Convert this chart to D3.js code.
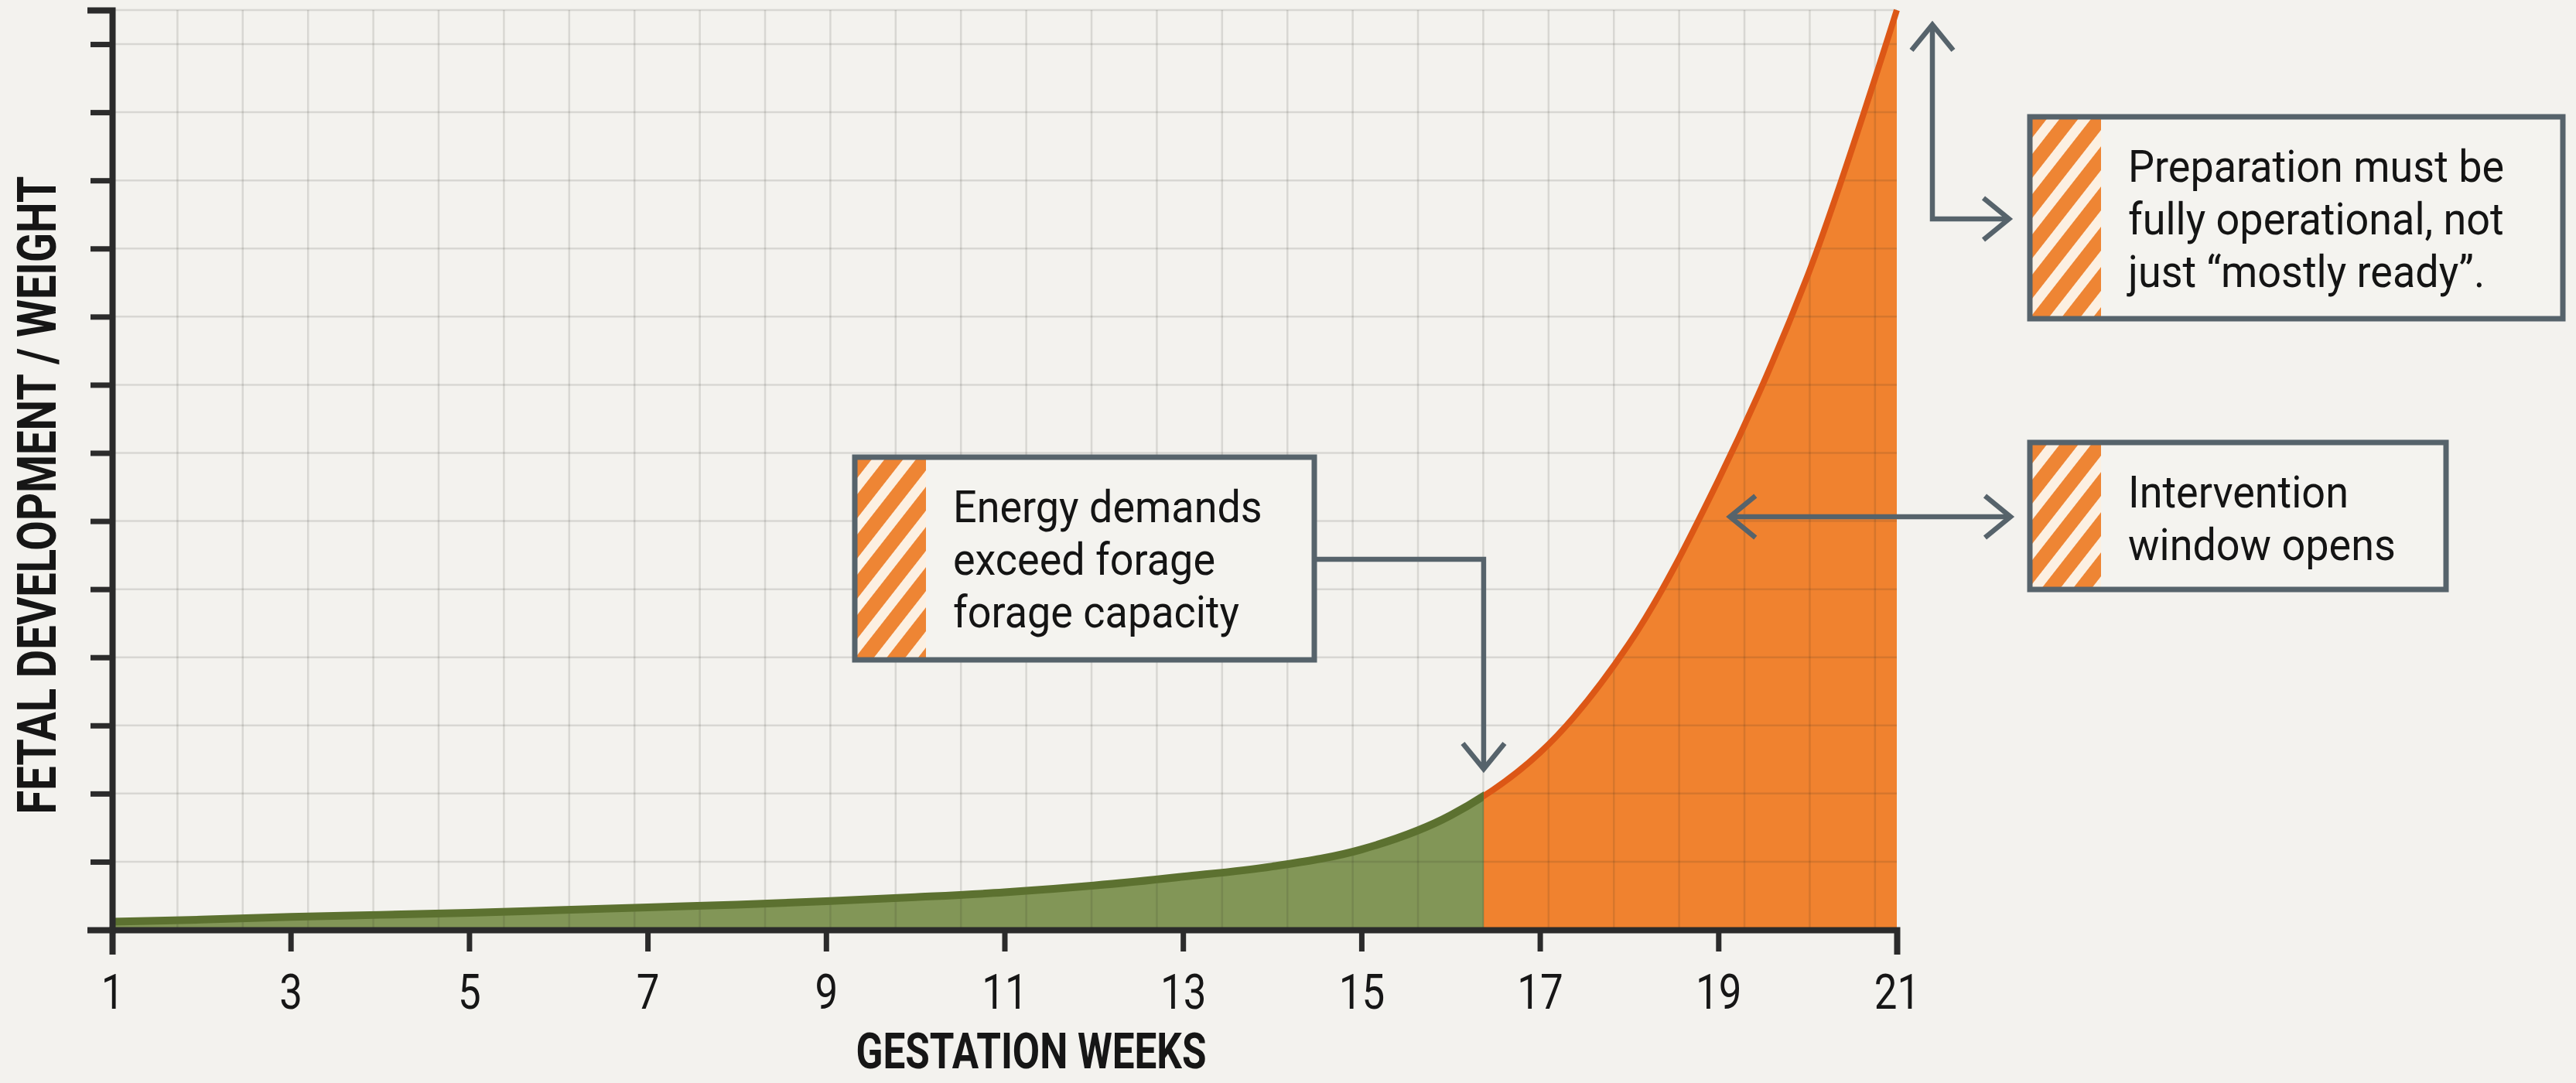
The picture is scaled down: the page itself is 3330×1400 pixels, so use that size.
<!DOCTYPE html>
<html>
<head>
<meta charset="utf-8">
<script src="https://cdn.jsdelivr.net/npm/d3@7/dist/d3.min.js"></script>
<style>
    body { margin: 0; background: #f3f2ee; }
    svg { display: block; }
</style>
</head>
<body>
<div id="chart-area"></div>
<script>
// gestation weeks and the relative fetal development
const weeks = [1, 2, 3, 4, 5, 6, 7, 8, 9, 10, 11, 12, 13, 14, 15, 16, 17, 18, 19, 20, 21];
const development = [0.12, 0.15, 0.19, 0.22, 0.25, 0.29, 0.33, 0.37, 0.42, 0.48, 0.55, 0.65, 0.78, 0.93, 1.18, 1.68, 2.60, 4.20, 6.60, 9.60, 13.5];

// week where forage stops covering the demand (green -> orange)
const splitWeek = 16.37;

const xTickWeeks = [1, 3, 5, 7, 9, 11, 13, 15, 17, 19, 21];
const yTickValues = [1, 2, 3, 4, 5, 6, 7, 8, 9, 10, 11, 12, 13];

const xTitle = "GESTATION WEEKS";
const yTitle = "FETAL DEVELOPMENT / WEIGHT";

const energyNote = ["Energy demands", "exceed forage", "forage capacity"];
const preparationNote = ["Preparation must be", "fully operational, not", "just \u201cmostly ready\u201d."];
const interventionNote = ["Intervention", "window opens"];

const FONT = "Roboto, 'Liberation Sans', sans-serif";

class GestationChart {
    constructor(parentElement) {
        this.parentElement = parentElement;
        this.initVis();
    }

    initVis() {
        const vis = this;

        vis.margin = { top: 13, right: 878, bottom: 198, left: 145 };
        vis.width = 3330 - vis.margin.left - vis.margin.right;
        vis.height = 1400 - vis.margin.top - vis.margin.bottom;

        vis.root = d3.select(vis.parentElement)
            .append("svg")
            .attr("width", 3330)
            .attr("height", 1400);

        vis.root.append("rect")
            .attr("width", 3330).attr("height", 1400)
            .attr("fill", "#f3f2ee");

        // striped marker used on the annotation boxes
        const defs = vis.root.append("defs");
        const pat = defs.append("pattern")
            .attr("id", "stripes")
            .attr("patternUnits", "userSpaceOnUse")
            .attr("width", 32).attr("height", 32)
            .attr("patternTransform", "rotate(38)");
        pat.append("rect").attr("width", 32).attr("height", 32).attr("fill", "#fcf0e2");
        pat.append("rect").attr("width", 19).attr("height", 32).attr("fill", "#ee8534");

        vis.svg = vis.root.append("g")
            .attr("transform", `translate(${vis.margin.left}, ${vis.margin.top})`);

        vis.x = d3.scaleLinear().domain([1, 21]).range([0, vis.width]);
        vis.y = d3.scaleLinear().domain([0, 13.5]).range([vis.height, 0]);

        vis.data = weeks.map((w, i) => ({ week: w, value: development[i] }));

        vis.drawArea();
        vis.drawGrid();
        vis.drawCurve();
        vis.drawAxes();
        vis.drawNotes();
    }

    drawArea() {
        const vis = this;
        const xs = vis.x(splitWeek);

        vis.area = d3.area()
            .x(d => vis.x(d.week))
            .y0(vis.y(0))
            .y1(d => vis.y(d.value))
            .curve(d3.curveCatmullRom.alpha(0.5));

        const defs = vis.root.select("defs");
        defs.append("clipPath").attr("id", "clip-left")
            .append("rect").attr("x", -20).attr("y", -50).attr("width", xs + 20).attr("height", vis.height + 100);
        defs.append("clipPath").attr("id", "clip-right")
            .append("rect").attr("x", xs).attr("y", -50).attr("width", vis.width - xs + 20).attr("height", vis.height + 100);

        vis.svg.append("path").datum(vis.data)
            .attr("clip-path", "url(#clip-left)")
            .attr("fill", "#829657")
            .attr("d", vis.area);
        vis.svg.append("path").datum(vis.data)
            .attr("clip-path", "url(#clip-right)")
            .attr("fill", "#f0822f")
            .attr("d", vis.area);
    }

    drawGrid() {
        const vis = this;
        const grid = vis.svg.append("g").attr("class", "grid")
            .attr("stroke", "rgba(40,35,30,0.13)")
            .attr("stroke-width", 2.5);

        // graph-paper columns are not aligned with the week ticks
        const colStep = 0.7317;
        const cols = d3.range(1, 28).map(k => 1 + k * colStep);
        grid.selectAll(".v").data(cols).join("line")
            .attr("x1", d => vis.x(d)).attr("x2", d => vis.x(d))
            .attr("y1", 0).attr("y2", vis.height);

        grid.selectAll(".h").data(yTickValues.concat([13.5])).join("line")
            .attr("x1", 0).attr("x2", vis.width)
            .attr("y1", d => vis.y(d)).attr("y2", d => vis.y(d));
    }

    drawCurve() {
        const vis = this;
        const line = d3.line()
            .x(d => vis.x(d.week))
            .y(d => vis.y(d.value))
            .curve(d3.curveCatmullRom.alpha(0.5));

        vis.svg.append("path").datum(vis.data)
            .attr("clip-path", "url(#clip-left)")
            .attr("fill", "none")
            .attr("stroke", "#5c7130")
            .attr("stroke-width", 10)
            .attr("d", line);
        vis.svg.append("path").datum(vis.data)
            .attr("clip-path", "url(#clip-right)")
            .attr("fill", "none")
            .attr("stroke", "#dc5716")
            .attr("stroke-width", 8)
            .attr("d", line);
    }

    drawAxes() {
        const vis = this;

        const xAxis = vis.svg.append("g")
            .attr("transform", `translate(0, ${vis.height})`)
            .call(d3.axisBottom(vis.x).tickValues(xTickWeeks).tickSize(28).tickPadding(29).tickFormat(d3.format("d")));

        const yAxis = vis.svg.append("g")
            .call(d3.axisLeft(vis.y).tickValues(yTickValues).tickSize(28).tickFormat(""));

        [xAxis, yAxis].forEach(ax => {
            ax.select(".domain").attr("stroke", "#2b2b2b").attr("stroke-width", 8).attr("stroke-linecap", "square");
            ax.selectAll(".tick line").attr("stroke", "#2b2b2b").attr("stroke-width", 7);
        });
        // no tick mark at the origin
        xAxis.selectAll(".tick").filter(d => d === 1).select("line").remove();
        xAxis.selectAll(".tick text")
            .attr("font-family", FONT)
            .attr("font-size", 63)
            .attr("fill", "#161616")
            .attr("dy", "0.71em")
            .attr("transform", "scale(0.84, 1)");

        vis.root.append("text")
            .attr("transform", "translate(1333, 1381) scale(0.8, 1)")
            .attr("text-anchor", "middle")
            .attr("font-family", FONT).attr("font-weight", "bold")
            .attr("font-size", 64).attr("fill", "#161616")
            .text(xTitle);

        vis.root.append("text")
            .attr("transform", "translate(72, 640) rotate(-90) scale(0.8, 1)")
            .attr("text-anchor", "middle")
            .attr("font-family", FONT).attr("font-weight", "bold")
            .attr("font-size", 70).attr("fill", "#161616")
            .text(yTitle);
    }

    noteBox(x, y, w, h, lines) {
        const vis = this;
        const g = vis.root.append("g").attr("transform", `translate(${x}, ${y})`);
        g.append("rect").attr("width", w).attr("height", h)
            .attr("fill", "#f4f3ef");
        g.append("rect").attr("width", 92).attr("height", h)
            .attr("fill", "url(#stripes)");
        g.append("rect").attr("width", w).attr("height", h)
            .attr("fill", "none").attr("stroke", "#56636b").attr("stroke-width", 7);
        g.append("g")
            .attr("transform", "translate(127, 0) scale(0.93, 1)")
            .selectAll("text").data(lines).join("text")
            .attr("y", (d, i) => 84 + i * 68)
            .attr("font-family", FONT)
            .attr("font-size", 58)
            .attr("fill", "#141414")
            .text(d => d);
    }

    arrowHead(g, tx, ty, dir) {
        const a = 27, b = 33;
        const pts = {
            down: [[tx - a, ty - b], [tx, ty], [tx + a, ty - b]],
            up: [[tx - a, ty + b], [tx, ty], [tx + a, ty + b]],
            left: [[tx + b, ty - a], [tx, ty], [tx + b, ty + a]],
            right: [[tx - b, ty - a], [tx, ty], [tx - b, ty + a]]
        }[dir];
        g.append("path").attr("d", d3.line()(pts));
    }

    drawNotes() {
        const vis = this;
        const ox = vis.margin.left;
        const g = vis.root.append("g")
            .attr("fill", "none")
            .attr("stroke", "#56636b")
            .attr("stroke-width", 6.5)
            .attr("stroke-linejoin", "miter");

        // energy demand box -> split point
        const sx = ox + vis.x(splitWeek);
        g.append("path").attr("d", `M1699,723 H${sx} V992`);
        vis.arrowHead(g, sx, 994, "down");

        // preparation box, elbow arrow up to the top of the chart and right to the box
        g.append("path").attr("d", "M2498,34 V283 H2596");
        vis.arrowHead(g, 2498, 32, "up");
        vis.arrowHead(g, 2597, 283, "right");

        // intervention window double arrow pointing at the steep part
        const ix = ox + vis.x(19.13), iy = 668;
        g.append("path").attr("d", `M${ix},${iy} H2598`);
        vis.arrowHead(g, ix, iy, "left");
        vis.arrowHead(g, 2599, iy, "right");

        vis.noteBox(1105, 591, 594, 262, energyNote);
        vis.noteBox(2624, 151, 689, 261, preparationNote);
        vis.noteBox(2624, 572, 538, 190, interventionNote);
    }
}

new GestationChart("#chart-area");
</script>
</body>
</html>
